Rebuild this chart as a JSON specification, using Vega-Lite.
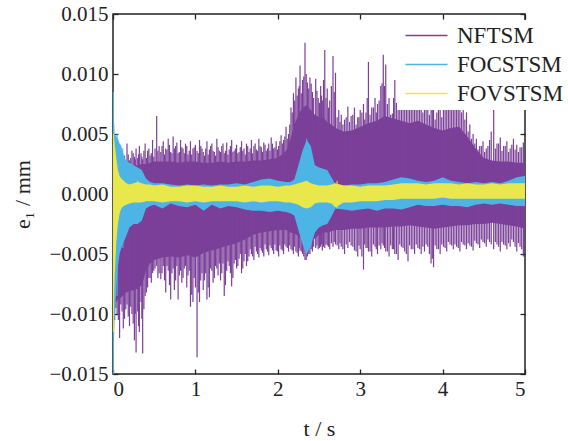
{
"$schema": "https://vega.github.io/schema/vega-lite/v6.json",
"width": 412, "height": 360,
"autosize": "none",
"padding": {"left": 113, "top": 14, "right": 43, "bottom": 67},
"background": "white",
"config": {
  "view": {"stroke": "#222", "strokeWidth": 1.5},
  "font": "Liberation Serif",
  "axis": {"grid": false, "domain": false, "tickColor": "#222", "tickWidth": 1.3, "tickSize": -5, "labelFont": "Liberation Serif", "labelFontSize": 21, "labelColor": "#222", "titleFont": "Liberation Serif", "titleFontSize": 22, "titleFontWeight": "normal", "titleColor": "#222"},
  "legend": {"orient": "none", "legendX": 284, "legendY": 6, "fillColor": "white", "padding": 4, "symbolType": "M-1,0H5", "symbolSize": 196, "symbolStrokeWidth": 1.5, "labelFont": "Liberation Serif", "labelFontSize": 23, "labelColor": "#222", "labelOffset": 33, "rowPadding": 5, "title": null}
},
"datasets": {
"band": [
{"t":0.00,"nh":0.001,"nl":-0.004,"ch":0.0085,"cl":-0.015,"vh":0.005,"vl":-0.0115},
{"t":0.01,"nh":0.001,"nl":-0.0085,"ch":0.0065,"cl":-0.0125,"vh":0.0048,"vl":-0.0095},
{"t":0.02,"nh":0.0012,"nl":-0.009,"ch":0.005,"cl":-0.0105,"vh":0.0042,"vl":-0.007},
{"t":0.04,"nh":0.0014,"nl":-0.009,"ch":0.0048,"cl":-0.008,"vh":0.003,"vl":-0.004},
{"t":0.06,"nh":0.0016,"nl":-0.0088,"ch":0.0046,"cl":-0.006,"vh":0.002,"vl":-0.0025},
{"t":0.08,"nh":0.0018,"nl":-0.0087,"ch":0.0042,"cl":-0.005,"vh":0.0015,"vl":-0.0016},
{"t":0.10,"nh":0.002,"nl":-0.0086,"ch":0.004,"cl":-0.0045,"vh":0.0013,"vl":-0.0012},
{"t":0.13,"nh":0.0022,"nl":-0.0084,"ch":0.0032,"cl":-0.004,"vh":0.0011,"vl":-0.001},
{"t":0.16,"nh":0.0023,"nl":-0.0082,"ch":0.0028,"cl":-0.0035,"vh":0.0009,"vl":-0.0009},
{"t":0.20,"nh":0.0023,"nl":-0.0081,"ch":0.0026,"cl":-0.0028,"vh":0.0008,"vl":-0.0008},
{"t":0.25,"nh":0.0024,"nl":-0.008,"ch":0.0024,"cl":-0.0025,"vh":0.0009,"vl":-0.0007},
{"t":0.30,"nh":0.0024,"nl":-0.0079,"ch":0.0022,"cl":-0.0025,"vh":0.001,"vl":-0.0007},
{"t":0.35,"nh":0.0025,"nl":-0.0076,"ch":0.002,"cl":-0.0022,"vh":0.0009,"vl":-0.0007},
{"t":0.40,"nh":0.0025,"nl":-0.0064,"ch":0.0013,"cl":-0.0012,"vh":0.0008,"vl":-0.0006},
{"t":0.45,"nh":0.0026,"nl":-0.0058,"ch":0.001,"cl":-0.001,"vh":0.0008,"vl":-0.0006},
{"t":0.50,"nh":0.0027,"nl":-0.0055,"ch":0.0009,"cl":-0.0009,"vh":0.0007,"vl":-0.0006},
{"t":0.60,"nh":0.0027,"nl":-0.0053,"ch":0.0009,"cl":-0.0012,"vh":0.0008,"vl":-0.0007},
{"t":0.70,"nh":0.0027,"nl":-0.0052,"ch":0.0008,"cl":-0.0008,"vh":0.0006,"vl":-0.0006},
{"t":0.80,"nh":0.0026,"nl":-0.0053,"ch":0.0007,"cl":-0.001,"vh":0.0006,"vl":-0.0006},
{"t":0.90,"nh":0.0027,"nl":-0.0051,"ch":0.0008,"cl":-0.0011,"vh":0.0007,"vl":-0.0007},
{"t":1.00,"nh":0.0027,"nl":-0.0053,"ch":0.0007,"cl":-0.0009,"vh":0.0007,"vl":-0.0006},
{"t":1.10,"nh":0.0026,"nl":-0.0049,"ch":0.0008,"cl":-0.0014,"vh":0.0006,"vl":-0.0007},
{"t":1.20,"nh":0.0026,"nl":-0.0047,"ch":0.0007,"cl":-0.0009,"vh":0.0006,"vl":-0.0006},
{"t":1.30,"nh":0.0027,"nl":-0.0045,"ch":0.0008,"cl":-0.0012,"vh":0.0007,"vl":-0.0006},
{"t":1.40,"nh":0.0026,"nl":-0.0043,"ch":0.0008,"cl":-0.001,"vh":0.0006,"vl":-0.0006},
{"t":1.50,"nh":0.0027,"nl":-0.0041,"ch":0.0009,"cl":-0.0011,"vh":0.0006,"vl":-0.0006},
{"t":1.60,"nh":0.0027,"nl":-0.0038,"ch":0.0008,"cl":-0.0013,"vh":0.0007,"vl":-0.0007},
{"t":1.70,"nh":0.0028,"nl":-0.0034,"ch":0.001,"cl":-0.0014,"vh":0.0006,"vl":-0.0006},
{"t":1.80,"nh":0.0028,"nl":-0.0032,"ch":0.0012,"cl":-0.0014,"vh":0.0007,"vl":-0.0007},
{"t":1.90,"nh":0.0029,"nl":-0.0031,"ch":0.0013,"cl":-0.0015,"vh":0.0007,"vl":-0.0006},
{"t":2.00,"nh":0.003,"nl":-0.003,"ch":0.0011,"cl":-0.0014,"vh":0.0006,"vl":-0.0006},
{"t":2.10,"nh":0.0036,"nl":-0.003,"ch":0.001,"cl":-0.0015,"vh":0.0007,"vl":-0.0007},
{"t":2.15,"nh":0.0045,"nl":-0.0032,"ch":0.001,"cl":-0.0016,"vh":0.0007,"vl":-0.0007},
{"t":2.20,"nh":0.0058,"nl":-0.0033,"ch":0.0012,"cl":-0.0018,"vh":0.0008,"vl":-0.0008},
{"t":2.25,"nh":0.0066,"nl":-0.0035,"ch":0.0024,"cl":-0.003,"vh":0.0009,"vl":-0.0009},
{"t":2.30,"nh":0.0072,"nl":-0.0038,"ch":0.0036,"cl":-0.0042,"vh":0.001,"vl":-0.0011},
{"t":2.35,"nh":0.0074,"nl":-0.0042,"ch":0.0045,"cl":-0.005,"vh":0.0011,"vl":-0.0012},
{"t":2.40,"nh":0.007,"nl":-0.004,"ch":0.004,"cl":-0.0044,"vh":0.0009,"vl":-0.0011},
{"t":2.45,"nh":0.0066,"nl":-0.0037,"ch":0.0024,"cl":-0.0032,"vh":0.0008,"vl":-0.0008},
{"t":2.50,"nh":0.0064,"nl":-0.0034,"ch":0.0022,"cl":-0.0028,"vh":0.0007,"vl":-0.0007},
{"t":2.55,"nh":0.0064,"nl":-0.0032,"ch":0.0021,"cl":-0.0026,"vh":0.0007,"vl":-0.0007},
{"t":2.60,"nh":0.006,"nl":-0.0032,"ch":0.002,"cl":-0.0025,"vh":0.0007,"vl":-0.0007},
{"t":2.65,"nh":0.0058,"nl":-0.0031,"ch":0.0014,"cl":-0.0019,"vh":0.0008,"vl":-0.0008},
{"t":2.70,"nh":0.0055,"nl":-0.003,"ch":0.0008,"cl":-0.0012,"vh":0.0009,"vl":-0.0011},
{"t":2.80,"nh":0.0052,"nl":-0.003,"ch":0.0007,"cl":-0.0013,"vh":0.0007,"vl":-0.0007},
{"t":2.90,"nh":0.0053,"nl":-0.0029,"ch":0.0008,"cl":-0.0014,"vh":0.0007,"vl":-0.0007},
{"t":3.00,"nh":0.0056,"nl":-0.0029,"ch":0.0008,"cl":-0.0013,"vh":0.0006,"vl":-0.0006},
{"t":3.10,"nh":0.0059,"nl":-0.0028,"ch":0.0009,"cl":-0.0012,"vh":0.0007,"vl":-0.0006},
{"t":3.20,"nh":0.0061,"nl":-0.0028,"ch":0.0009,"cl":-0.0014,"vh":0.0007,"vl":-0.0006},
{"t":3.30,"nh":0.0065,"nl":-0.0028,"ch":0.001,"cl":-0.0012,"vh":0.0007,"vl":-0.0005},
{"t":3.40,"nh":0.0063,"nl":-0.0027,"ch":0.0012,"cl":-0.0012,"vh":0.0008,"vl":-0.0005},
{"t":3.50,"nh":0.0061,"nl":-0.0027,"ch":0.0014,"cl":-0.0013,"vh":0.0009,"vl":-0.0004},
{"t":3.60,"nh":0.0059,"nl":-0.0026,"ch":0.0013,"cl":-0.0011,"vh":0.0009,"vl":-0.0004},
{"t":3.70,"nh":0.0061,"nl":-0.0027,"ch":0.0011,"cl":-0.0009,"vh":0.0009,"vl":-0.0004},
{"t":3.80,"nh":0.0058,"nl":-0.0028,"ch":0.001,"cl":-0.001,"vh":0.0008,"vl":-0.0004},
{"t":3.90,"nh":0.0055,"nl":-0.0029,"ch":0.0011,"cl":-0.001,"vh":0.0009,"vl":-0.0004},
{"t":4.00,"nh":0.0053,"nl":-0.0028,"ch":0.0014,"cl":-0.0009,"vh":0.0009,"vl":-0.0003},
{"t":4.10,"nh":0.0055,"nl":-0.0027,"ch":0.0011,"cl":-0.001,"vh":0.0009,"vl":-0.0004},
{"t":4.20,"nh":0.0056,"nl":-0.0026,"ch":0.001,"cl":-0.001,"vh":0.0008,"vl":-0.0004},
{"t":4.30,"nh":0.0048,"nl":-0.0026,"ch":0.0009,"cl":-0.0011,"vh":0.0009,"vl":-0.0004},
{"t":4.40,"nh":0.0038,"nl":-0.0025,"ch":0.001,"cl":-0.0009,"vh":0.0008,"vl":-0.0004},
{"t":4.50,"nh":0.003,"nl":-0.0025,"ch":0.0009,"cl":-0.0008,"vh":0.0008,"vl":-0.0004},
{"t":4.60,"nh":0.0028,"nl":-0.0024,"ch":0.001,"cl":-0.0009,"vh":0.0009,"vl":-0.0004},
{"t":4.70,"nh":0.0027,"nl":-0.0025,"ch":0.0009,"cl":-0.0008,"vh":0.0008,"vl":-0.0004},
{"t":4.80,"nh":0.0027,"nl":-0.0026,"ch":0.0011,"cl":-0.0009,"vh":0.0009,"vl":-0.0004},
{"t":4.90,"nh":0.0026,"nl":-0.0027,"ch":0.0014,"cl":-0.001,"vh":0.0009,"vl":-0.0004},
{"t":5.00,"nh":0.0026,"nl":-0.0029,"ch":0.0015,"cl":-0.001,"vh":0.0009,"vl":-0.0004}
],
"spk": [
{"t":0.02,"s":"NFTSM","a":0.002,"b":-0.0105},{"t":0.05,"s":"NFTSM","a":0.0028,"b":-0.01},{"t":0.08,"s":"NFTSM","a":0.003,"b":-0.012},{"t":0.11,"s":"NFTSM","a":0.0035,"b":-0.0098},{"t":0.14,"s":"NFTSM","a":0.0032,"b":-0.0104},{"t":0.17,"s":"NFTSM","a":0.0042,"b":-0.0092},{"t":0.20,"s":"NFTSM","a":0.0028,"b":-0.011},{"t":0.23,"s":"NFTSM","a":0.0036,"b":-0.01},{"t":0.26,"s":"NFTSM","a":0.0031,"b":-0.0122},{"t":0.28,"s":"NFTSM","a":0.0038,"b":-0.0132},{"t":0.30,"s":"NFTSM","a":0.003,"b":-0.0098},{"t":0.32,"s":"NFTSM","a":0.004,"b":-0.0115},{"t":0.34,"s":"NFTSM","a":0.0034,"b":-0.009},{"t":0.36,"s":"NFTSM","a":0.0029,"b":-0.0133},{"t":0.39,"s":"NFTSM","a":0.0042,"b":-0.0085},
{"t":0.42,"s":"NFTSM","a":0.0036,"b":-0.0078},{"t":0.45,"s":"NFTSM","a":0.0032,"b":-0.007},{"t":0.48,"s":"NFTSM","a":0.0045,"b":-0.0066},{"t":0.51,"s":"NFTSM","a":0.0038,"b":-0.0062},{"t":0.53,"s":"NFTSM","a":0.0065,"b":-0.006},{"t":0.56,"s":"NFTSM","a":0.004,"b":-0.0066},{"t":0.58,"s":"NFTSM","a":0.0035,"b":-0.0071},{"t":0.61,"s":"NFTSM","a":0.0044,"b":-0.006},{"t":0.64,"s":"NFTSM","a":0.0038,"b":-0.0082},{"t":0.67,"s":"NFTSM","a":0.0046,"b":-0.0064},{"t":0.70,"s":"NFTSM","a":0.0035,"b":-0.0088},{"t":0.73,"s":"NFTSM","a":0.0048,"b":-0.0062},{"t":0.76,"s":"NFTSM","a":0.004,"b":-0.0072},{"t":0.79,"s":"NFTSM","a":0.0034,"b":-0.0088},{"t":0.82,"s":"NFTSM","a":0.0045,"b":-0.0064},{"t":0.85,"s":"NFTSM","a":0.0038,"b":-0.007},{"t":0.88,"s":"NFTSM","a":0.0042,"b":-0.006},{"t":0.91,"s":"NFTSM","a":0.0033,"b":-0.0068},{"t":0.94,"s":"NFTSM","a":0.0044,"b":-0.0094},{"t":0.97,"s":"NFTSM","a":0.0038,"b":-0.009},
{"t":1.00,"s":"NFTSM","a":0.0041,"b":-0.0078},{"t":1.02,"s":"NFTSM","a":0.0036,"b":-0.0136},{"t":1.05,"s":"NFTSM","a":0.0045,"b":-0.009},{"t":1.08,"s":"NFTSM","a":0.0038,"b":-0.0066},{"t":1.11,"s":"NFTSM","a":0.0032,"b":-0.0072},{"t":1.14,"s":"NFTSM","a":0.0044,"b":-0.0088},{"t":1.17,"s":"NFTSM","a":0.0037,"b":-0.0086},{"t":1.20,"s":"NFTSM","a":0.0042,"b":-0.0064},{"t":1.23,"s":"NFTSM","a":0.0035,"b":-0.007},{"t":1.26,"s":"NFTSM","a":0.0046,"b":-0.0062},{"t":1.29,"s":"NFTSM","a":0.0036,"b":-0.0058},{"t":1.32,"s":"NFTSM","a":0.004,"b":-0.0066},{"t":1.35,"s":"NFTSM","a":0.0034,"b":-0.0085},{"t":1.38,"s":"NFTSM","a":0.0043,"b":-0.0064},{"t":1.41,"s":"NFTSM","a":0.0037,"b":-0.006},{"t":1.44,"s":"NFTSM","a":0.0045,"b":-0.0077},{"t":1.47,"s":"NFTSM","a":0.0036,"b":-0.0058},
{"t":1.50,"s":"NFTSM","a":0.0041,"b":-0.0062},{"t":1.53,"s":"NFTSM","a":0.0035,"b":-0.0054},{"t":1.56,"s":"NFTSM","a":0.0044,"b":-0.0066},{"t":1.59,"s":"NFTSM","a":0.0038,"b":-0.0056},{"t":1.62,"s":"NFTSM","a":0.0042,"b":-0.006},{"t":1.65,"s":"NFTSM","a":0.0035,"b":-0.0052},{"t":1.68,"s":"NFTSM","a":0.0045,"b":-0.005},{"t":1.71,"s":"NFTSM","a":0.004,"b":-0.0055},{"t":1.74,"s":"NFTSM","a":0.0037,"b":-0.0048},{"t":1.77,"s":"NFTSM","a":0.0046,"b":-0.0053},{"t":1.80,"s":"NFTSM","a":0.0039,"b":-0.0047},{"t":1.83,"s":"NFTSM","a":0.0043,"b":-0.0052},{"t":1.86,"s":"NFTSM","a":0.0036,"b":-0.0046},{"t":1.89,"s":"NFTSM","a":0.0042,"b":-0.0051},{"t":1.92,"s":"NFTSM","a":0.0047,"b":-0.0045},{"t":1.95,"s":"NFTSM","a":0.0038,"b":-0.005},{"t":1.98,"s":"NFTSM","a":0.0044,"b":-0.0047},
{"t":2.01,"s":"NFTSM","a":0.004,"b":-0.0052},{"t":2.04,"s":"NFTSM","a":0.0049,"b":-0.0046},{"t":2.07,"s":"NFTSM","a":0.0045,"b":-0.005},{"t":2.10,"s":"NFTSM","a":0.0056,"b":-0.0044},{"t":2.13,"s":"NFTSM","a":0.005,"b":-0.0048},{"t":2.16,"s":"NFTSM","a":0.0072,"b":-0.0046},{"t":2.19,"s":"NFTSM","a":0.0084,"b":-0.005},{"t":2.22,"s":"NFTSM","a":0.0097,"b":-0.0048},{"t":2.25,"s":"NFTSM","a":0.0088,"b":-0.0052},{"t":2.27,"s":"NFTSM","a":0.0107,"b":-0.0047},{"t":2.30,"s":"NFTSM","a":0.0095,"b":-0.005},{"t":2.33,"s":"NFTSM","a":0.0126,"b":-0.0055},{"t":2.36,"s":"NFTSM","a":0.0093,"b":-0.0052},{"t":2.39,"s":"NFTSM","a":0.0097,"b":-0.005},{"t":2.42,"s":"NFTSM","a":0.0085,"b":-0.0048},{"t":2.46,"s":"NFTSM","a":0.0096,"b":-0.0045},{"t":2.49,"s":"NFTSM","a":0.008,"b":-0.0046},
{"t":2.52,"s":"NFTSM","a":0.009,"b":-0.0044},{"t":2.54,"s":"NFTSM","a":0.0078,"b":-0.0047},{"t":2.57,"s":"NFTSM","a":0.012,"b":-0.0045},{"t":2.60,"s":"NFTSM","a":0.0088,"b":-0.0043},{"t":2.63,"s":"NFTSM","a":0.0078,"b":-0.0046},{"t":2.67,"s":"NFTSM","a":0.0115,"b":-0.0044},{"t":2.70,"s":"NFTSM","a":0.0101,"b":-0.0042},{"t":2.74,"s":"NFTSM","a":0.007,"b":-0.0046},{"t":2.77,"s":"NFTSM","a":0.0066,"b":-0.0044},{"t":2.81,"s":"NFTSM","a":0.0062,"b":-0.005},{"t":2.85,"s":"NFTSM","a":0.0073,"b":-0.0045},{"t":2.89,"s":"NFTSM","a":0.0065,"b":-0.0043},{"t":2.93,"s":"NFTSM","a":0.0072,"b":-0.0047},{"t":2.97,"s":"NFTSM","a":0.0064,"b":-0.0052},
{"t":3.00,"s":"NFTSM","a":0.007,"b":-0.0046},{"t":3.04,"s":"NFTSM","a":0.0075,"b":-0.0063},{"t":3.07,"s":"NFTSM","a":0.0068,"b":-0.0045},{"t":3.10,"s":"NFTSM","a":0.011,"b":-0.0048},{"t":3.14,"s":"NFTSM","a":0.0072,"b":-0.0052},{"t":3.18,"s":"NFTSM","a":0.008,"b":-0.0044},{"t":3.21,"s":"NFTSM","a":0.0075,"b":-0.005},{"t":3.25,"s":"NFTSM","a":0.009,"b":-0.0046},{"t":3.28,"s":"NFTSM","a":0.0116,"b":-0.0043},{"t":3.31,"s":"NFTSM","a":0.0108,"b":-0.0048},{"t":3.35,"s":"NFTSM","a":0.008,"b":-0.0052},{"t":3.39,"s":"NFTSM","a":0.0067,"b":-0.0046},{"t":3.42,"s":"NFTSM","a":0.0095,"b":-0.005},{"t":3.46,"s":"NFTSM","a":0.0088,"b":-0.0055},
{"t":3.50,"s":"NFTSM","a":0.0092,"b":-0.0044},{"t":3.54,"s":"NFTSM","a":0.0085,"b":-0.0048},{"t":3.58,"s":"NFTSM","a":0.0098,"b":-0.0056},{"t":3.62,"s":"NFTSM","a":0.008,"b":-0.0046},{"t":3.66,"s":"NFTSM","a":0.0088,"b":-0.005},{"t":3.70,"s":"NFTSM","a":0.0105,"b":-0.0045},{"t":3.74,"s":"NFTSM","a":0.0082,"b":-0.005},{"t":3.78,"s":"NFTSM","a":0.0075,"b":-0.0048},{"t":3.82,"s":"NFTSM","a":0.009,"b":-0.0044},{"t":3.86,"s":"NFTSM","a":0.0072,"b":-0.0058},{"t":3.89,"s":"NFTSM","a":0.0078,"b":-0.0061},{"t":3.93,"s":"NFTSM","a":0.0068,"b":-0.0046},{"t":3.97,"s":"NFTSM","a":0.0082,"b":-0.005},
{"t":4.01,"s":"NFTSM","a":0.007,"b":-0.0044},{"t":4.05,"s":"NFTSM","a":0.0085,"b":-0.0048},{"t":4.09,"s":"NFTSM","a":0.0078,"b":-0.0042},{"t":4.13,"s":"NFTSM","a":0.0092,"b":-0.0046},{"t":4.17,"s":"NFTSM","a":0.0088,"b":-0.0044},{"t":4.21,"s":"NFTSM","a":0.0095,"b":-0.0048},{"t":4.25,"s":"NFTSM","a":0.0075,"b":-0.0042},{"t":4.29,"s":"NFTSM","a":0.0068,"b":-0.0046},{"t":4.33,"s":"NFTSM","a":0.0058,"b":-0.0043},{"t":4.37,"s":"NFTSM","a":0.005,"b":-0.0047},{"t":4.41,"s":"NFTSM","a":0.0046,"b":-0.0041},{"t":4.45,"s":"NFTSM","a":0.004,"b":-0.0045},{"t":4.49,"s":"NFTSM","a":0.0044,"b":-0.004},
{"t":4.53,"s":"NFTSM","a":0.0038,"b":-0.0044},{"t":4.57,"s":"NFTSM","a":0.0045,"b":-0.004},{"t":4.62,"s":"NFTSM","a":0.007,"b":-0.0046},{"t":4.66,"s":"NFTSM","a":0.0042,"b":-0.0042},{"t":4.70,"s":"NFTSM","a":0.0047,"b":-0.0048},{"t":4.74,"s":"NFTSM","a":0.004,"b":-0.0042},{"t":4.78,"s":"NFTSM","a":0.0044,"b":-0.0046},{"t":4.82,"s":"NFTSM","a":0.0038,"b":-0.0044},{"t":4.86,"s":"NFTSM","a":0.0046,"b":-0.004},{"t":4.90,"s":"NFTSM","a":0.0041,"b":-0.0048},{"t":4.94,"s":"NFTSM","a":0.0039,"b":-0.0044},{"t":4.98,"s":"NFTSM","a":0.0043,"b":-0.0052},
{"t":0.035,"s":"NFTSM","a":0.0024,"b":-0.0095},{"t":0.065,"s":"NFTSM","a":0.0026,"b":-0.0105},{"t":0.095,"s":"NFTSM","a":0.0028,"b":-0.0092},{"t":0.125,"s":"NFTSM","a":0.003,"b":-0.0112},{"t":0.155,"s":"NFTSM","a":0.0027,"b":-0.0096},{"t":0.185,"s":"NFTSM","a":0.0033,"b":-0.0102},{"t":0.215,"s":"NFTSM","a":0.003,"b":-0.0094},{"t":0.245,"s":"NFTSM","a":0.0034,"b":-0.0108},{"t":0.27,"s":"NFTSM","a":0.0029,"b":-0.01},{"t":0.31,"s":"NFTSM","a":0.0033,"b":-0.011},{"t":0.35,"s":"NFTSM","a":0.0031,"b":-0.0104},{"t":0.375,"s":"NFTSM","a":0.0036,"b":-0.0096},{"t":0.405,"s":"NFTSM","a":0.003,"b":-0.0082},{"t":0.435,"s":"NFTSM","a":0.0038,"b":-0.007},{"t":0.465,"s":"NFTSM","a":0.0034,"b":-0.0074},{"t":0.495,"s":"NFTSM","a":0.0031,"b":-0.0064},
{"t":0.545,"s":"NFTSM","a":0.0036,"b":-0.007},{"t":0.595,"s":"NFTSM","a":0.004,"b":-0.0066},{"t":0.625,"s":"NFTSM","a":0.0033,"b":-0.0072},{"t":0.655,"s":"NFTSM","a":0.0037,"b":-0.006},{"t":0.685,"s":"NFTSM","a":0.0041,"b":-0.0076},{"t":0.715,"s":"NFTSM","a":0.0034,"b":-0.0066},{"t":0.745,"s":"NFTSM","a":0.0038,"b":-0.008},{"t":0.775,"s":"NFTSM","a":0.0043,"b":-0.006},{"t":0.805,"s":"NFTSM","a":0.0035,"b":-0.0068},{"t":0.835,"s":"NFTSM","a":0.0039,"b":-0.0074},{"t":0.865,"s":"NFTSM","a":0.0034,"b":-0.0062},{"t":0.895,"s":"NFTSM","a":0.004,"b":-0.0078},{"t":0.925,"s":"NFTSM","a":0.0036,"b":-0.0064},{"t":0.955,"s":"NFTSM","a":0.0033,"b":-0.0084},{"t":0.985,"s":"NFTSM","a":0.0039,"b":-0.007},
{"t":1.035,"s":"NFTSM","a":0.0034,"b":-0.0082},{"t":1.065,"s":"NFTSM","a":0.004,"b":-0.0072},{"t":1.095,"s":"NFTSM","a":0.0035,"b":-0.008},{"t":1.125,"s":"NFTSM","a":0.0038,"b":-0.0066},{"t":1.155,"s":"NFTSM","a":0.0033,"b":-0.0078},{"t":1.185,"s":"NFTSM","a":0.004,"b":-0.0062},{"t":1.215,"s":"NFTSM","a":0.0036,"b":-0.0074},{"t":1.245,"s":"NFTSM","a":0.0032,"b":-0.006},{"t":1.275,"s":"NFTSM","a":0.0039,"b":-0.0068},{"t":1.305,"s":"NFTSM","a":0.0035,"b":-0.0072},{"t":1.335,"s":"NFTSM","a":0.0042,"b":-0.0058},{"t":1.365,"s":"NFTSM","a":0.0036,"b":-0.0076},{"t":1.395,"s":"NFTSM","a":0.0033,"b":-0.0056},{"t":1.425,"s":"NFTSM","a":0.004,"b":-0.0066},{"t":1.455,"s":"NFTSM","a":0.0035,"b":-0.007},{"t":1.485,"s":"NFTSM","a":0.0038,"b":-0.0055},
{"t":1.515,"s":"NFTSM","a":0.0034,"b":-0.006},{"t":1.545,"s":"NFTSM","a":0.0039,"b":-0.005},{"t":1.575,"s":"NFTSM","a":0.0036,"b":-0.0062},{"t":1.605,"s":"NFTSM","a":0.0033,"b":-0.005},{"t":1.635,"s":"NFTSM","a":0.004,"b":-0.0056},{"t":1.665,"s":"NFTSM","a":0.0038,"b":-0.0046},{"t":1.695,"s":"NFTSM","a":0.0034,"b":-0.0052},{"t":1.725,"s":"NFTSM","a":0.0042,"b":-0.0044},{"t":1.755,"s":"NFTSM","a":0.0036,"b":-0.005},{"t":1.785,"s":"NFTSM","a":0.004,"b":-0.0045},{"t":1.815,"s":"NFTSM","a":0.0035,"b":-0.0049},{"t":1.845,"s":"NFTSM","a":0.0041,"b":-0.0042},{"t":1.875,"s":"NFTSM","a":0.0038,"b":-0.0048},{"t":1.905,"s":"NFTSM","a":0.0036,"b":-0.0043},{"t":1.935,"s":"NFTSM","a":0.0042,"b":-0.0047},{"t":1.965,"s":"NFTSM","a":0.0039,"b":-0.0042},{"t":1.995,"s":"NFTSM","a":0.0037,"b":-0.0048},
{"t":2.025,"s":"NFTSM","a":0.0044,"b":-0.0043},{"t":2.055,"s":"NFTSM","a":0.0042,"b":-0.0047},{"t":2.085,"s":"NFTSM","a":0.0048,"b":-0.0042},{"t":2.115,"s":"NFTSM","a":0.0046,"b":-0.0045},{"t":2.145,"s":"NFTSM","a":0.0058,"b":-0.0043},{"t":2.175,"s":"NFTSM","a":0.0068,"b":-0.0047},{"t":2.205,"s":"NFTSM","a":0.0078,"b":-0.0044},{"t":2.235,"s":"NFTSM","a":0.0082,"b":-0.0049},{"t":2.26,"s":"NFTSM","a":0.009,"b":-0.0045},{"t":2.285,"s":"NFTSM","a":0.0084,"b":-0.0048},{"t":2.315,"s":"NFTSM","a":0.0098,"b":-0.0052},{"t":2.345,"s":"NFTSM","a":0.01,"b":-0.0055},{"t":2.375,"s":"NFTSM","a":0.0088,"b":-0.005},{"t":2.405,"s":"NFTSM","a":0.0092,"b":-0.0046},{"t":2.435,"s":"NFTSM","a":0.008,"b":-0.0044},{"t":2.475,"s":"NFTSM","a":0.0086,"b":-0.0043},
{"t":2.505,"s":"NFTSM","a":0.0076,"b":-0.0045},{"t":2.53,"s":"NFTSM","a":0.0082,"b":-0.0042},{"t":2.555,"s":"NFTSM","a":0.0095,"b":-0.0044},{"t":2.585,"s":"NFTSM","a":0.008,"b":-0.0042},{"t":2.615,"s":"NFTSM","a":0.0072,"b":-0.0044},{"t":2.65,"s":"NFTSM","a":0.009,"b":-0.0041},{"t":2.685,"s":"NFTSM","a":0.0085,"b":-0.004},{"t":2.72,"s":"NFTSM","a":0.0064,"b":-0.0043},{"t":2.755,"s":"NFTSM","a":0.006,"b":-0.0041},{"t":2.79,"s":"NFTSM","a":0.0058,"b":-0.0046},{"t":2.83,"s":"NFTSM","a":0.0064,"b":-0.0042},{"t":2.87,"s":"NFTSM","a":0.006,"b":-0.004},{"t":2.91,"s":"NFTSM","a":0.0066,"b":-0.0044},{"t":2.95,"s":"NFTSM","a":0.0058,"b":-0.0048},{"t":2.985,"s":"NFTSM","a":0.0064,"b":-0.0043},
{"t":3.02,"s":"NFTSM","a":0.0068,"b":-0.0052},{"t":3.055,"s":"NFTSM","a":0.0062,"b":-0.0042},{"t":3.085,"s":"NFTSM","a":0.008,"b":-0.0045},{"t":3.12,"s":"NFTSM","a":0.0066,"b":-0.0048},{"t":3.16,"s":"NFTSM","a":0.0072,"b":-0.0042},{"t":3.195,"s":"NFTSM","a":0.0068,"b":-0.0046},{"t":3.23,"s":"NFTSM","a":0.0078,"b":-0.0043},{"t":3.265,"s":"NFTSM","a":0.0092,"b":-0.0041},{"t":3.295,"s":"NFTSM","a":0.009,"b":-0.0045},{"t":3.33,"s":"NFTSM","a":0.0075,"b":-0.0048},{"t":3.37,"s":"NFTSM","a":0.0066,"b":-0.0043},{"t":3.405,"s":"NFTSM","a":0.008,"b":-0.0046},{"t":3.44,"s":"NFTSM","a":0.0076,"b":-0.005},{"t":3.48,"s":"NFTSM","a":0.008,"b":-0.0042},
{"t":3.52,"s":"NFTSM","a":0.0076,"b":-0.0045},{"t":3.56,"s":"NFTSM","a":0.0082,"b":-0.005},{"t":3.60,"s":"NFTSM","a":0.0072,"b":-0.0043},{"t":3.64,"s":"NFTSM","a":0.0078,"b":-0.0046},{"t":3.68,"s":"NFTSM","a":0.0085,"b":-0.0042},{"t":3.72,"s":"NFTSM","a":0.0074,"b":-0.0046},{"t":3.76,"s":"NFTSM","a":0.0068,"b":-0.0044},{"t":3.80,"s":"NFTSM","a":0.0078,"b":-0.0042},{"t":3.84,"s":"NFTSM","a":0.0066,"b":-0.005},{"t":3.875,"s":"NFTSM","a":0.007,"b":-0.0054},{"t":3.91,"s":"NFTSM","a":0.0062,"b":-0.0043},{"t":3.95,"s":"NFTSM","a":0.0072,"b":-0.0046},{"t":3.99,"s":"NFTSM","a":0.0064,"b":-0.0042},
{"t":4.03,"s":"NFTSM","a":0.0075,"b":-0.0045},{"t":4.07,"s":"NFTSM","a":0.007,"b":-0.004},{"t":4.11,"s":"NFTSM","a":0.008,"b":-0.0043},{"t":4.15,"s":"NFTSM","a":0.0076,"b":-0.0042},{"t":4.19,"s":"NFTSM","a":0.0082,"b":-0.0045},{"t":4.23,"s":"NFTSM","a":0.0068,"b":-0.004},{"t":4.27,"s":"NFTSM","a":0.0062,"b":-0.0043},{"t":4.31,"s":"NFTSM","a":0.0052,"b":-0.0041},{"t":4.35,"s":"NFTSM","a":0.0046,"b":-0.0044},{"t":4.39,"s":"NFTSM","a":0.0042,"b":-0.0039},{"t":4.43,"s":"NFTSM","a":0.0037,"b":-0.0042},{"t":4.47,"s":"NFTSM","a":0.004,"b":-0.0038},
{"t":4.51,"s":"NFTSM","a":0.0035,"b":-0.0041},{"t":4.55,"s":"NFTSM","a":0.004,"b":-0.0038},{"t":4.59,"s":"NFTSM","a":0.0052,"b":-0.0042},{"t":4.64,"s":"NFTSM","a":0.0038,"b":-0.004},{"t":4.68,"s":"NFTSM","a":0.0042,"b":-0.0044},{"t":4.72,"s":"NFTSM","a":0.0036,"b":-0.004},{"t":4.76,"s":"NFTSM","a":0.004,"b":-0.0043},{"t":4.80,"s":"NFTSM","a":0.0035,"b":-0.0041},{"t":4.84,"s":"NFTSM","a":0.0041,"b":-0.0038},{"t":4.88,"s":"NFTSM","a":0.0037,"b":-0.0044},{"t":4.92,"s":"NFTSM","a":0.0035,"b":-0.0041},{"t":4.96,"s":"NFTSM","a":0.0039,"b":-0.0046},
{"t":0.005,"s":"FOCSTSM","a":0.0085,"b":-0.015},{"t":0.05,"s":"FOCSTSM","a":0.005,"b":-0.0085},{"t":0.12,"s":"FOCSTSM","a":0.0038,"b":-0.0045},{"t":2.35,"s":"FOCSTSM","a":0.0046,"b":-0.005},
{"t":0.005,"s":"FOVSTSM","a":0.005,"b":-0.0115},{"t":0.3,"s":"FOVSTSM","a":0.0011,"b":-0.0007},{"t":2.72,"s":"FOVSTSM","a":0.0011,"b":-0.0012}
]
},
"layer": [
{"data": {"name": "band"}, "mark": {"type": "area", "color": "#7b4099", "clip": true},
 "encoding": {
  "x": {"field": "t", "type": "quantitative", "scale": {"domain": [0, 5], "nice": false, "zero": false},
        "axis": {"orient": "bottom", "values": [0,1,2,3,4,5], "format": "d", "labelPadding": 9, "title": "t / s", "titlePadding": 19}},
  "y": {"field": "nh", "type": "quantitative", "scale": {"domain": [-0.015, 0.015], "nice": false, "zero": false},
        "axis": {"orient": "left", "values": [-0.015,-0.01,-0.005,0,0.005,0.01,0.015], "format": ".3f", "labelPadding": 10, "title": "e₁ / mm", "titlePadding": 14}},
  "y2": {"field": "nl"}}},
{"data": {"name": "spk"}, "transform": [{"filter": "datum.s === 'NFTSM'"}], "mark": {"type": "rule", "strokeWidth": 1.2, "clip": true},
 "encoding": {
  "x": {"field": "t", "type": "quantitative", "axis": null},
  "y": {"field": "a", "type": "quantitative", "axis": null},
  "y2": {"field": "b"},
  "color": {"field": "s", "type": "nominal", "scale": {"domain": ["NFTSM","FOCSTSM","FOVSTSM"], "range": ["#7b4099","#4db4e6","#e8e84c"]}, "legend": {}}}},
{"data": {"name": "band"}, "mark": {"type": "area", "color": "#4db4e6", "clip": true},
 "encoding": {
  "x": {"field": "t", "type": "quantitative", "axis": {"orient": "top", "values": [0,1,2,3,4,5], "labels": false, "title": null}},
  "y": {"field": "ch", "type": "quantitative", "axis": {"orient": "right", "values": [-0.015,-0.01,-0.005,0,0.005,0.01,0.015], "labels": false, "title": null}},
  "y2": {"field": "cl"}}},
{"data": {"name": "spk"}, "transform": [{"filter": "datum.s === 'FOCSTSM'"}], "mark": {"type": "rule", "strokeWidth": 1, "clip": true},
 "encoding": {
  "x": {"field": "t", "type": "quantitative", "axis": null},
  "y": {"field": "a", "type": "quantitative", "axis": null},
  "y2": {"field": "b"},
  "color": {"field": "s", "type": "nominal"}}},
{"data": {"name": "band"}, "mark": {"type": "area", "color": "#e8e84c", "clip": true},
 "encoding": {
  "x": {"field": "t", "type": "quantitative", "axis": null},
  "y": {"field": "vh", "type": "quantitative", "axis": null},
  "y2": {"field": "vl"}}},
{"data": {"name": "spk"}, "transform": [{"filter": "datum.s === 'FOVSTSM'"}], "mark": {"type": "rule", "strokeWidth": 1, "clip": true},
 "encoding": {
  "x": {"field": "t", "type": "quantitative", "axis": null},
  "y": {"field": "a", "type": "quantitative", "axis": null},
  "y2": {"field": "b"},
  "color": {"field": "s", "type": "nominal"}}}
],
"resolve": {"axis": {"x": "independent", "y": "independent"}}
}
